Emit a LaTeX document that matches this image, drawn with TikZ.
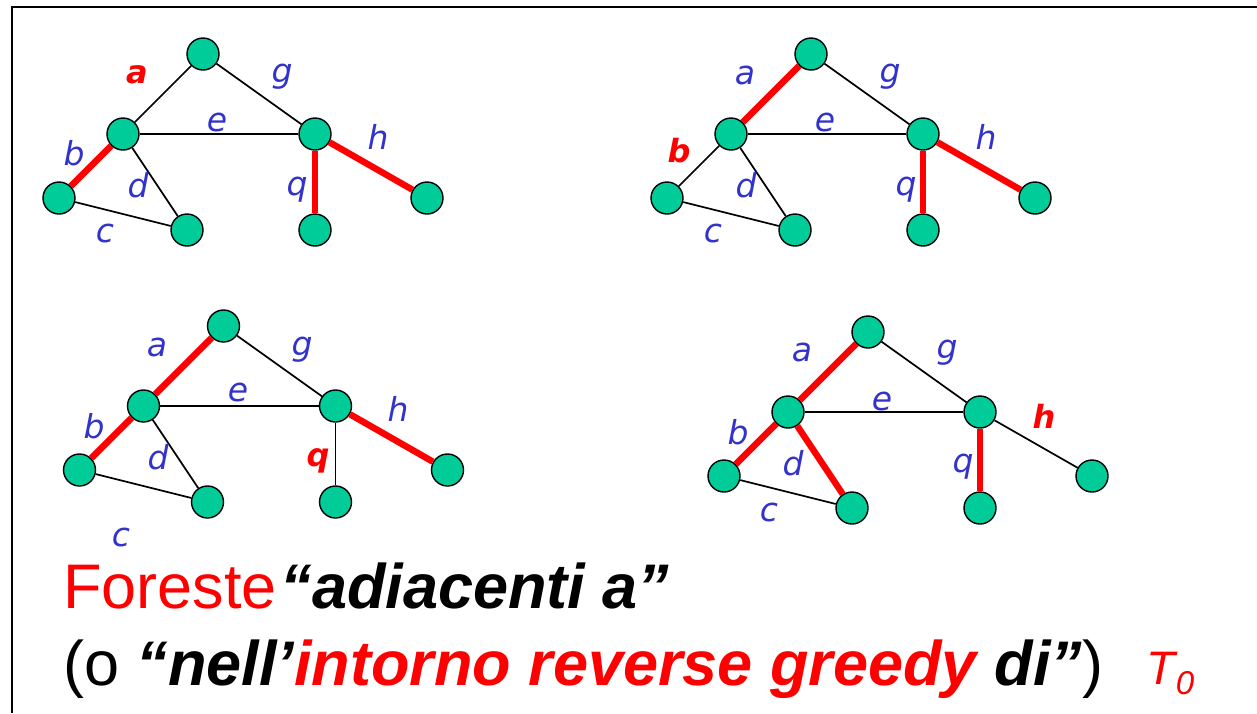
\documentclass[tikz,border=0pt]{standalone}
\usepackage{fontspec}
\setmainfont{Liberation Sans}
\newfontfamily\lblfont{DejaVu Sans}
\definecolor{nodegreen}{RGB}{0,204,153}
\definecolor{lblblue}{RGB}{51,51,204}
\definecolor{hot}{RGB}{255,0,0}
\tikzset{
  vtx/.style={circle,draw=black,line width=1.4pt,fill=nodegreen,minimum size=32pt,inner sep=0pt},
  edg/.style={draw=black,line width=1.7pt},
  redg/.style={draw=hot,line width=6.5pt},
  lbl/.style={text=lblblue,font=\lblfont\itshape\fontsize{33}{35}\selectfont,inner sep=0pt},
  hlbl/.style={text=hot,font=\lblfont\bfseries\itshape\fontsize{32}{35}\selectfont,inner sep=0pt},
  big/.style={font=\fontsize{63}{70}\selectfont,inner sep=0pt,anchor=base west},
}
\newcommand{\placevertices}[3]{%
  \begin{scope}[shift={(#2,#3)}]
    \node[vtx] (#1t)  at (203,54)  {};
    \node[vtx] (#1b)  at (123,134) {};
    \node[vtx] (#1q)  at (315,134) {};
    \node[vtx] (#1ll) at (59,198)  {};
    \node[vtx] (#1lm) at (187,230) {};
    \node[vtx] (#1lq) at (315,230) {};
    \node[vtx] (#1lr) at (427,198) {};
  \end{scope}}
\begin{document}
\begin{tikzpicture}[x=1pt,y=-1pt]
\useasboundingbox (0,0) rectangle (1257,713);
\coordinate (frTL) at (12,7);
\coordinate (frTR) at (1257,7);
\coordinate (frBL) at (12,713);
\draw[line width=2.6pt] (frTR) -- (frTL) -- (frBL);

% graph 1
\placevertices{A}{0}{0}
\draw[edg] (At) -- (Ab);
\draw[edg] (At) -- (Aq);
\draw[edg] (Ab) -- (Aq);
\draw[redg] (Ab) -- (All);
\draw[edg] (Ab) -- (Alm);
\draw[edg] (All) -- (Alm);
\draw[redg] (Aq) -- (Alq);
\draw[redg] (Aq) -- (Alr);
\node[hlbl] (Ala) at (137,75) {a};
\node[lbl] (Alg) at (282,77) {g};
\node[lbl] (Ale) at (217,122) {e};
\node[lbl] (Alh) at (378,137) {h};
\node[lbl] (Alb) at (74,153) {b};
\node[lbl] (Ald) at (138,185) {d};
\node[lbl] (Alqq) at (297,190) {q};
\node[lbl] (Alc) at (105,233) {c};

% graph 2
\placevertices{B}{608}{0}
\draw[redg] (Bt) -- (Bb);
\draw[edg] (Bt) -- (Bq);
\draw[edg] (Bb) -- (Bq);
\draw[edg] (Bb) -- (Bll);
\draw[edg] (Bb) -- (Blm);
\draw[edg] (Bll) -- (Blm);
\draw[redg] (Bq) -- (Blq);
\draw[redg] (Bq) -- (Blr);
\node[lbl] (Bla) at (745,75) {a};
\node[lbl] (Blg) at (890,77) {g};
\node[lbl] (Ble) at (825,122) {e};
\node[lbl] (Blh) at (986,137) {h};
\node[hlbl] (Blb) at (679,151) {b};
\node[lbl] (Bld) at (746,185) {d};
\node[lbl] (Blqq) at (906,190) {q};
\node[lbl] (Blc) at (713,233) {c};

% graph 3
\placevertices{C}{20.5}{272}
\draw[redg] (Ct) -- (Cb);
\draw[edg] (Ct) -- (Cq);
\draw[edg] (Cb) -- (Cq);
\draw[redg] (Cb) -- (Cll);
\draw[edg] (Cb) -- (Clm);
\draw[edg] (Cll) -- (Clm);
\draw[edg] (Cq) -- (Clq);
\draw[redg] (Cq) -- (Clr);
\node[lbl] (Cla) at (157,347) {a};
\node[lbl] (Clg) at (302,350) {g};
\node[lbl] (Cle) at (238,392) {e};
\node[lbl] (Clh) at (398,409) {h};
\node[lbl] (Clb) at (94,426) {b};
\node[lbl] (Cld) at (158,457) {d};
\node[hlbl] (Clqq) at (318,461) {q};
\node[lbl] (Clc) at (121,537) {c};

% graph 4
\placevertices{D}{665}{278}
\draw[redg] (Dt) -- (Db);
\draw[edg] (Dt) -- (Dq);
\draw[edg] (Db) -- (Dq);
\draw[redg] (Db) -- (Dll);
\draw[redg] (Db) -- (Dlm);
\draw[edg] (Dll) -- (Dlm);
\draw[redg] (Dq) -- (Dlq);
\draw[edg] (Dq) -- (Dlr);
\node[lbl] (Dla) at (802,352) {a};
\node[lbl] (Dlg) at (947,353) {g};
\node[lbl] (Dle) at (882,401) {e};
\node[hlbl] (Dlh) at (1044,416) {h};
\node[lbl] (Dlb) at (738,432) {b};
\node[lbl] (Dld) at (793,463) {d};
\node[lbl] (Dlqq) at (963,467) {q};
\node[lbl] (Dlc) at (769,512) {c};

% text
\node[big] (line1) at (63,608) {\textcolor{hot}{Foreste}\kern4pt\textbf{\textit{“adiacenti a”}}};
\node[big] (line2) at (63,685) {(o \textbf{\textit{“nell’\textcolor{hot}{intorno reverse greedy} di”}})};
\node[inner sep=0pt,anchor=base west,text=hot,font=\fontsize{47}{52}\selectfont\itshape] (tzero) at (1146,684) {T\kern1pt\raisebox{-10pt}{\fontsize{33}{35}\selectfont 0}};
\end{tikzpicture}
\end{document}
